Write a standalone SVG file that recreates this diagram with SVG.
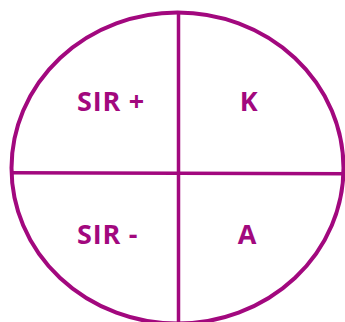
<svg xmlns="http://www.w3.org/2000/svg" width="345" height="322" viewBox="0 0 345 322">
<style>
.ln{fill:none;stroke:#a2087e;}
.t{font-family:"Open Sans","Liberation Sans",sans-serif;font-weight:bold;font-size:27px;fill:#a2087e;}
.s{letter-spacing:0.8px;}
</style>
<rect width="345" height="322" fill="#ffffff"/>
<g id="connectors">
<ellipse class="ln" cx="177.5" cy="168" rx="166" ry="155.6" stroke-width="4"/>
<line class="ln" x1="11" y1="172.7" x2="345" y2="173.7" stroke-width="3.5"/>
<line class="ln" x1="178.5" y1="12" x2="178.5" y2="322" stroke-width="3.5"/>
</g>
<g id="sir-plus"><text class="t s" x="77" y="111">SIR +</text></g>
<g id="k"><text class="t" x="248.7" y="111" text-anchor="middle">K</text></g>
<g id="sir-minus"><text class="t s" x="77" y="244">SIR -</text></g>
<g id="a"><text class="t" x="247" y="244" text-anchor="middle">A</text></g>
</svg>
